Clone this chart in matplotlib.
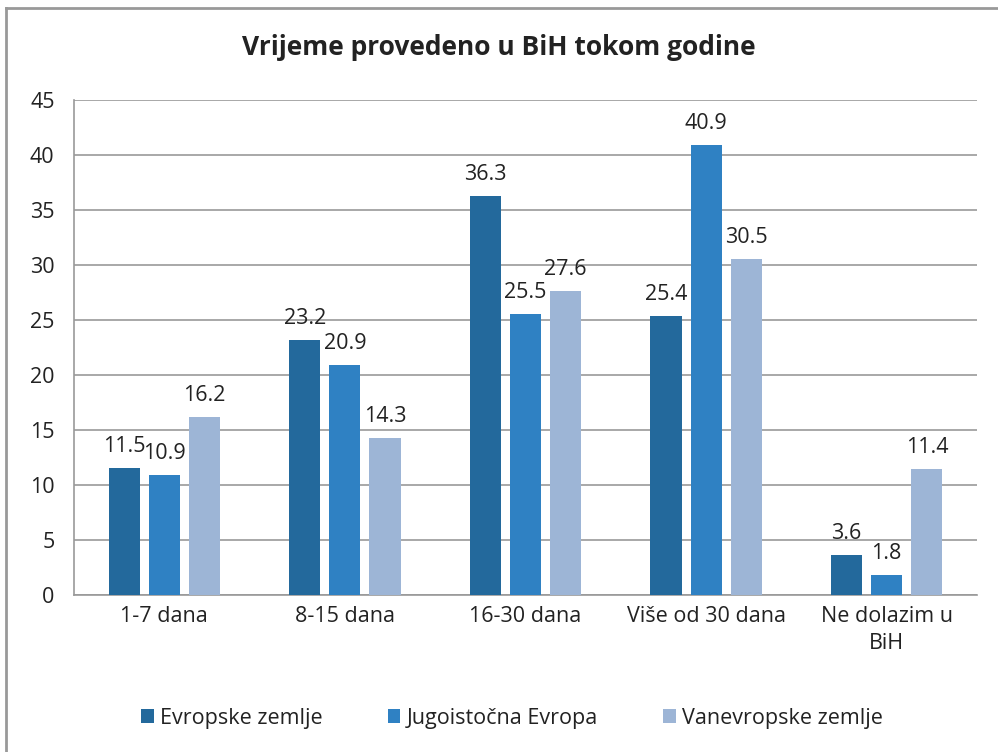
import numpy as np
import matplotlib
matplotlib.use('Agg')
import matplotlib.pyplot as plt
from matplotlib.lines import Line2D

categories = ['1-7 dana', '8-15 dana', '16-30 dana', 'Više od 30 dana', 'Ne dolazim u\nBiH']
series = ['Evropske zemlje', 'Jugoistočna Evropa', 'Vanevropske zemlje']
evropske = [11.5, 23.2, 36.3, 25.4, 3.6]
jugoistocna = [10.9, 20.9, 25.5, 40.9, 1.8]
vanevropske = [16.2, 14.3, 27.6, 30.5, 11.4]
colors = ['#23699C', '#2F81C3', '#9DB5D6']

plt.rcParams['font.family'] = ['Open Sans', 'DejaVu Sans']
fs = 15.5

fig = plt.figure(figsize=(9.98, 7.52), dpi=100)
ax = fig.add_axes([0.0741, 0.209, 0.9049, 0.658])

x = np.arange(len(categories))
w = 0.172
step = 0.222
for i, (vals, name) in enumerate(zip([evropske, jugoistocna, vanevropske], series)):
    pos = x + (i - 1) * step
    bars = ax.bar(pos, vals, w, color=colors[i], label=name, zorder=3)
    for b, v in zip(bars, vals):
        ax.text(b.get_x() + b.get_width() / 2, v + 1.0, f'{v:.1f}',
                ha='center', va='bottom', fontsize=fs, color='#222222', zorder=4)

ax.set_xlim(-0.5, len(categories) - 0.5)
ax.set_ylim(0, 45)
ax.set_yticks(range(0, 50, 5))
ax.yaxis.grid(True, color='#999999', linewidth=1.2, zorder=0)
ax.set_xticks(x)
ax.set_xticklabels(categories, fontsize=fs, color='#222222', linespacing=1.4)
ax.tick_params(axis='y', labelsize=fs, colors='#222222', length=0, pad=14)
ax.tick_params(axis='x', length=0, pad=8)
for s in ['top', 'right']:
    ax.spines[s].set_visible(False)
for s in ['bottom', 'left']:
    ax.spines[s].set_color('#999999')
    ax.spines[s].set_linewidth(1.2)

fig.suptitle('Vrijeme provedeno u BiH tokom godine', y=0.955, fontsize=19,
             fontweight='bold', color='#222222')

leg = fig.legend(loc='center', bbox_to_anchor=(0.513, 0.045), ncol=3, frameon=False,
                 fontsize=fs, handlelength=0.6, handleheight=0.6,
                 columnspacing=3.0, handletextpad=0.3)
for t in leg.get_texts():
    t.set_color('#222222')

# outer border (left and top only are visible in the reference)
fig.add_artist(Line2D([0.006, 0.006], [0.0, 0.989], transform=fig.transFigure,
                      color='#999999', linewidth=2))
fig.add_artist(Line2D([0.006, 1.0], [0.989, 0.989], transform=fig.transFigure,
                      color='#999999', linewidth=2))

fig.savefig('out.png', dpi=100)
